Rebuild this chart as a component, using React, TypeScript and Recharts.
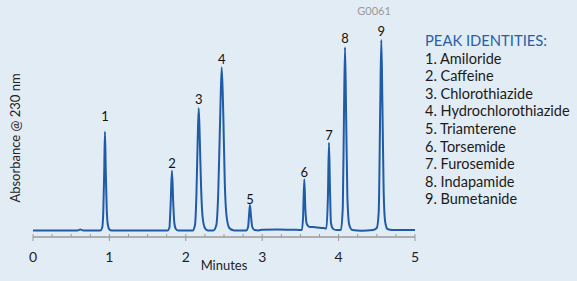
import React from 'react';
import { LineChart, Line, XAxis, YAxis, ReferenceDot } from 'recharts';

// Chromatogram trace (time in minutes, absorbance in arbitrary units)
const traceTime = [
  0, 0.3, 0.58, 0.62, 0.66, 0.88, 0.905, 0.92, 0.932, 0.942, 0.952, 0.965, 0.98, 1.0, 1.03,
  1.76, 1.785, 1.8, 1.819, 1.835, 1.85, 1.87, 1.9,
  2.09, 2.12, 2.14, 2.155, 2.169, 2.183, 2.2, 2.22, 2.25, 2.28, 2.31,
  2.36, 2.4, 2.425, 2.45, 2.47, 2.49, 2.51, 2.535, 2.57, 2.62, 2.66,
  2.79, 2.815, 2.83, 2.84, 2.852, 2.87, 2.9, 2.95, 3.0, 3.2, 3.4,
  3.52, 3.535, 3.551, 3.565, 3.58, 3.6, 3.63, 3.66, 3.72, 3.8, 3.84,
  3.86, 3.874, 3.888, 3.9, 3.93, 3.97,
  4.03, 4.055, 4.07, 4.084, 4.098, 4.115, 4.14, 4.18,
  4.3, 4.45, 4.5, 4.525, 4.545, 4.559, 4.573, 4.59, 4.61, 4.64, 4.7, 5.0,
];
const traceSignal = [
  6.4, 6.4, 6.4, 7.6, 6.4, 6.4, 9, 25, 65, 105.3, 68, 28, 12, 7.5, 6.5,
  6.5, 9, 30, 66.3, 35, 14, 8, 6.5,
  6.5, 12, 45, 95, 128.7, 98, 50, 20, 9, 6.8, 6.5,
  6.5, 12, 45, 120, 169.7, 125, 55, 20, 9, 6.8, 6.5,
  6.5, 10, 24, 32, 22, 10, 7, 6.6, 7.2, 7.6, 7.3,
  7, 20, 57.7, 28, 14, 11, 10, 10, 9.5, 9, 8.5,
  40, 94.3, 45, 14, 8, 7,
  7, 30, 120, 189.7, 125, 40, 12, 7,
  6.3, 7, 9, 25, 130, 197, 135, 45, 15, 8, 7, 7,
];

const peakNumbers = ['1', '2', '3', '4', '5', '6', '7', '8', '9'];
const peakTimes = [0.942, 1.819, 2.169, 2.47, 2.84, 3.551, 3.874, 4.084, 4.559];
const peakLabelLevels = [121, 74, 138, 178, 38, 65, 102, 199, 206];
const peakNames = [
  'Amiloride', 'Caffeine', 'Chlorothiazide', 'Hydrochlorothiazide', 'Triamterene',
  'Torsemide', 'Furosemide', 'Indapamide', 'Bumetanide',
];
const xTicks = [0, 0.25, 0.5, 0.75, 1, 1.25, 1.5, 1.75, 2, 2.25, 2.5, 2.75, 3, 3.25, 3.5, 3.75, 4, 4.25, 4.5, 4.75, 5];

const data = traceTime.map((t, i) => ({ t, a: traceSignal[i] }));

const FONT = 'Lato, "DejaVu Sans", sans-serif';
const BG = '#e2ecf4';
const LINE = '#1f5ba6';

const XTick = (props: any) => {
  const { x, y, payload } = props;
  const v = payload.value;
  const major = Number.isInteger(v);
  return (
    <g>
      <line x1={x} x2={x} y1={y - 3} y2={major ? y + 4 : y} stroke="#9a9a9a" strokeWidth={1} />
      {major && (
        <text x={x} y={y + 25} textAnchor="middle" fontSize={14} fill="#222" fontFamily={FONT}>
          {v}
        </text>
      )}
    </g>
  );
};

export default function App() {
  return (
    <div style={{ position: 'absolute', left: 0, top: 0, width: 577, height: 281, background: BG, overflow: 'hidden' }}>
      <LineChart width={577} height={281} data={data} margin={{ top: 24, right: 162, bottom: 14, left: 33 }}>
        <XAxis
          dataKey="t"
          type="number"
          domain={[0, 5]}
          ticks={xTicks}
          interval={0}
          height={30}
          tickSize={0}
          tickMargin={0}
          tickLine={false}
          axisLine={{ stroke: '#9a9a9a', strokeWidth: 1.5 }}
          tick={<XTick />}
        />
        <YAxis
          type="number"
          domain={[0, 213]}
          width={0}
          tick={false}
          tickLine={false}
          axisLine={{ stroke: '#111', strokeWidth: 1.5 }}
        />
        <Line
          type="monotone"
          dataKey="a"
          stroke={LINE}
          strokeWidth={2}
          dot={false}
          isAnimationActive={false}
        />
        {peakTimes.map((t, i) => (
          <ReferenceDot
            key={i}
            x={t}
            y={peakLabelLevels[i]}
            r={0}
            fill="none"
            stroke="none"
            label={{ value: peakNumbers[i], position: 'center', fontSize: 13, fill: '#111', fontFamily: FONT }}
          />
        ))}
      </LineChart>
      <svg width={577} height={281} style={{ position: 'absolute', left: 0, top: 0, pointerEvents: 'none' }}>
        <text x={374} y={14.5} textAnchor="middle" fontSize={11} fill="#9a9a9a" fontFamily={FONT}>G0061</text>
        <text x={425} y={45.5} fontSize={15.5} fill="#2a5fa5" fontFamily={FONT} textLength={122} lengthAdjust="spacingAndGlyphs">PEAK IDENTITIES:</text>
        {peakNames.map((n, i) => (
          <text key={i} x={425} y={63.5 + i * 17.6} fontSize={14.5} fill="#1a1a1a" fontFamily={FONT}>
            {`${peakNumbers[i]}. ${n}`}
          </text>
        ))}
        <text x={224} y={270} textAnchor="middle" fontSize={13} fill="#222" fontFamily={FONT}>Minutes</text>
        <text x={19.5} y={138} textAnchor="middle" fontSize={13} fill="#222" fontFamily={FONT} transform="rotate(-90 19.5 138)">
          Absorbance @ 230 nm
        </text>
      </svg>
    </div>
  );
}
